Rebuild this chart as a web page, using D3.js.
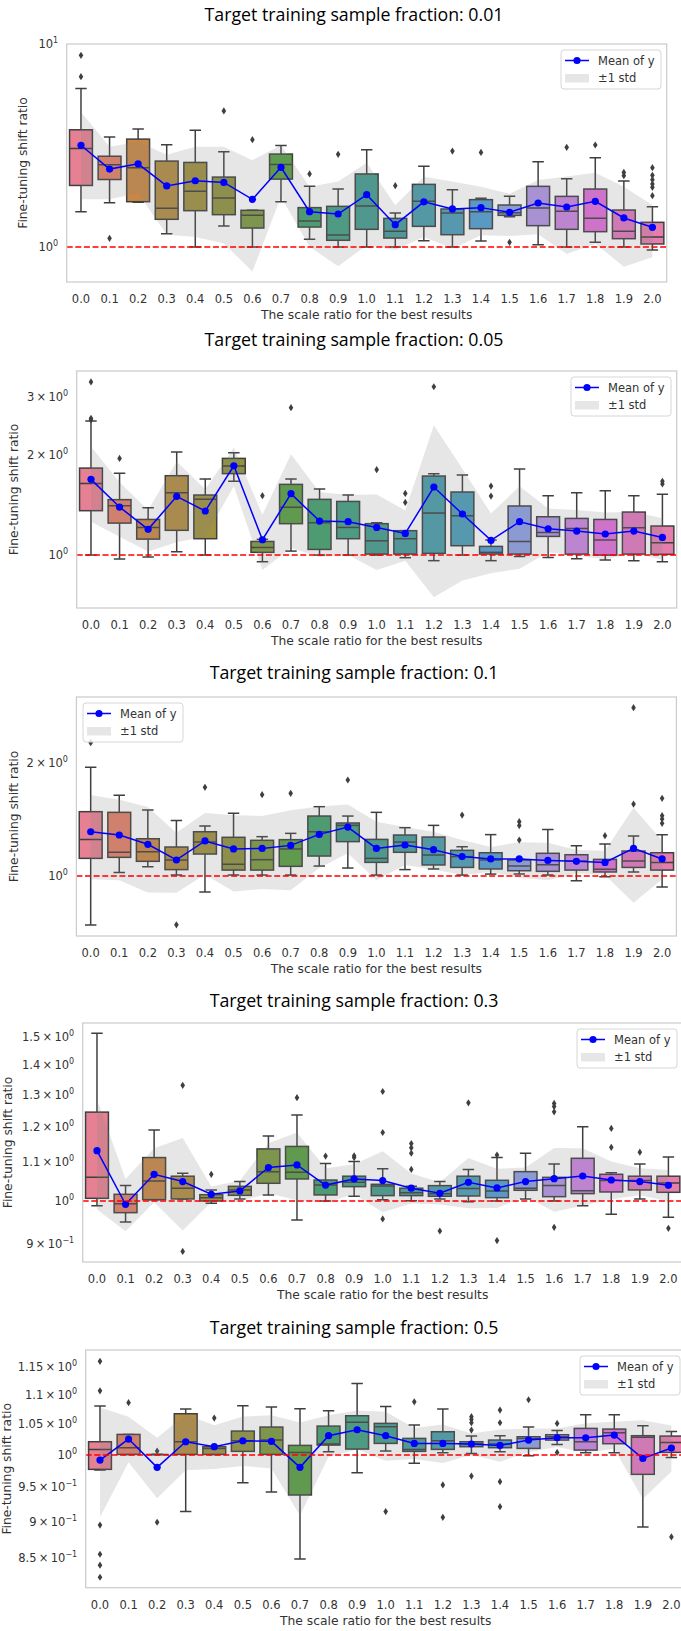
<!DOCTYPE html>
<html>
<head>
<meta charset="utf-8">
<script src="https://cdn.jsdelivr.net/npm/d3@7"></script>
<style>
  body { margin: 0; background: #fff; }
  svg { display: block; }
</style>
</head>
<body>
<svg id="chart" width="681" height="1631"></svg>
<script>
// ---------------------------------------------------------------------------
// Categories shared by every panel
// ---------------------------------------------------------------------------
const categories = ["0.0","0.1","0.2","0.3","0.4","0.5","0.6","0.7","0.8","0.9","1.0",
                    "1.1","1.2","1.3","1.4","1.5","1.6","1.7","1.8","1.9","2.0"];
const fractions = ["0.01", "0.05", "0.1", "0.3", "0.5"];

// ---------------------------------------------------------------------------
// Fraction 0.01
// ---------------------------------------------------------------------------
const f001Low    = [1.49, 1.654, 1.66, 1.163, 1.00, 1.269, 1.00, 1.672, 1.091, 1.00, 1.00, 1.00, 1.074, 1.00, 1.07, 1.411, 1.027, 1.00, 1.054, 1.00, 0.967];
const f001Q1     = [2.01, 2.15, 1.672, 1.369, 1.51, 1.443, 1.24, 2.16, 1.254, 1.079, 1.222, 1.107, 1.264, 1.15, 1.231, 1.432, 1.274, 1.222, 1.19, 1.099, 1.035];
const f001Median = [3.06, 2.54, 2.46, 1.55, 1.88, 1.743, 1.432, 2.55, 1.343, 1.146, 1.592, 1.195, 1.679, 1.47, 1.493, 1.476, 1.556, 1.499, 1.384, 1.195, 1.12];
const f001Q3     = [3.78, 2.80, 3.40, 2.65, 2.61, 2.21, 1.516, 2.87, 1.563, 1.586, 2.29, 1.384, 2.035, 1.539, 1.711, 1.61, 1.99, 1.776, 1.93, 1.521, 1.323];
const f001High   = [6.03, 3.48, 3.81, 3.19, 3.76, 2.95, 1.516, 3.16, 1.99, 1.93, 3.015, 1.47, 2.50, 1.917, 1.737, 1.776, 2.633, 2.171, 2.754, 2.114, 1.58];
const f001Outliers = [[8.79, 6.90], [1.103], [], [], [], [4.68], [3.38], [], [2.29], [2.86], [], [2.005], [], [2.97],
                      [2.925], [1.054], [], [3.097], [3.18], [2.33, 2.246], [2.46, 2.254, 2.147, 2.043, 1.967, 1.79]];
const f001Mean   = [3.17, 2.42, 2.57, 2.00, 2.12, 2.08, 1.717, 2.47, 1.493, 1.454, 1.81, 1.288, 1.67, 1.54, 1.563, 1.482, 1.647, 1.574, 1.679, 1.39, 1.25];
const f001Std    = [1.45, 0.70, 0.73, 0.85, 1.0, 1.04, 0.96, 0.70, 0.49, 0.65, 0.79, 0.32, 0.55, 0.56, 0.42, 0.35, 0.49, 0.65, 0.64, 0.59, 0.36];

// ---------------------------------------------------------------------------
// Fraction 0.05
// ---------------------------------------------------------------------------
const f005Low    = [1.0, 0.973, 0.986, 1.023, 1.0, 1.667, 0.955, 1.028, 1.0, 1.0, 1.0, 0.982, 0.962, 1.0, 0.962, 0.991, 0.984, 0.975, 0.966, 0.962, 0.955];
const f005Q1     = [1.36, 1.248, 1.117, 1.187, 1.12, 1.758, 1.019, 1.243, 1.04, 1.12, 1.007, 1.007, 1.012, 1.067, 1.007, 1.007, 1.138, 1.007, 1.0, 1.007, 1.005];
const f005Median = [1.643, 1.408, 1.211, 1.54, 1.471, 1.853, 1.054, 1.392, 1.251, 1.211, 1.104, 1.12, 1.338, 1.313, 1.019, 1.099, 1.17, 1.203, 1.11, 1.209, 1.089];
const f005Q3     = [1.827, 1.468, 1.28, 1.733, 1.516, 1.954, 1.099, 1.632, 1.471, 1.45, 1.243, 1.184, 1.729, 1.548, 1.062, 1.405, 1.304, 1.289, 1.28, 1.347, 1.223];
const f005High   = [2.53, 1.762, 1.388, 2.042, 1.694, 2.033, 1.115, 1.694, 1.58, 1.516, 1.251, 1.184, 1.758, 1.742, 1.11, 1.815, 1.509, 1.54, 1.562, 1.509, 1.523];
const f005Outliers = [[3.32, 2.58, 2.55], [1.954], [], [], [], [], [1.509], [2.777], [], [], [1.807], [1.533, 1.44], [3.21], [],
                      [1.613, 1.505], [], [], [], [], [], [1.667, 1.636]];
const f005Mean   = [1.69, 1.395, 1.195, 1.502, 1.357, 1.857, 1.112, 1.53, 1.266, 1.26, 1.211, 1.162, 1.602, 1.329, 1.107, 1.26, 1.2, 1.181, 1.157, 1.181, 1.13];
const f005Std    = [0.43, 0.26, 0.17, 0.41, 0.22, 0.245, 0.21, 0.48, 0.28, 0.26, 0.31, 0.2, 0.855, 0.49, 0.226, 0.35, 0.18, 0.185, 0.185, 0.17, 0.16];

// ---------------------------------------------------------------------------
// Fraction 0.1
// ---------------------------------------------------------------------------
const f01Low    = [0.741, 1.021, 1.059, 1.006, 0.907, 1.006, 1.006, 1.006, 1.063, 1.05, 1.006, 1.04, 1.044, 1.006, 1.012, 1.012, 1.006, 0.972, 0.996, 1.025, 0.935];
const f01Q1     = [1.114, 1.121, 1.094, 1.04, 1.144, 1.037, 1.037, 1.061, 1.13, 1.234, 1.087, 1.156, 1.07, 1.054, 1.044, 1.033, 1.029, 1.037, 1.025, 1.054, 1.037];
const f01Median = [1.251, 1.156, 1.16, 1.103, 1.231, 1.074, 1.105, 1.18, 1.311, 1.363, 1.114, 1.231, 1.137, 1.126, 1.103, 1.063, 1.072, 1.096, 1.042, 1.096, 1.087];
const f01Q3     = [1.482, 1.476, 1.256, 1.194, 1.311, 1.267, 1.244, 1.249, 1.443, 1.383, 1.251, 1.285, 1.269, 1.17, 1.153, 1.103, 1.149, 1.139, 1.107, 1.165, 1.153];
const f01High   = [1.944, 1.638, 1.497, 1.405, 1.358, 1.467, 1.272, 1.298, 1.528, 1.443, 1.476, 1.344, 1.363, 1.196, 1.288, 1.107, 1.33, 1.204, 1.216, 1.277, 1.288];
const f01Outliers = [[2.26], [], [], [0.742], [1.72], [], [1.644], [1.658], [], [1.799], [], [], [], [1.452], [],
                     [1.394, 1.361, 1.246], [], [], [1.28], [2.80, 1.553], [1.608, 1.446, 1.417, 1.38]];
const f01Mean   = [1.311, 1.285, 1.214, 1.103, 1.239, 1.18, 1.184, 1.206, 1.29, 1.349, 1.184, 1.209, 1.175, 1.126, 1.11, 1.11, 1.1, 1.094, 1.087, 1.184, 1.11];
const f01Std    = [0.33, 0.31, 0.31, 0.2, 0.23, 0.27, 0.26, 0.29, 0.24, 0.2, 0.21, 0.14, 0.135, 0.12, 0.085, 0.12, 0.125, 0.078, 0.08, 0.335, 0.13];

// ---------------------------------------------------------------------------
// Fraction 0.3
// ---------------------------------------------------------------------------
const f03Low    = [0.9886, 0.9495, 1.0033, 1.005, 0.9943, 1.005, 1.0149, 0.9542, 1.0, 1.0116, 1.0033, 1.0008, 1.005, 0.9984, 1.0, 1.005, 1.0, 0.9886, 0.9676, 1.005, 0.9605];
const f03Q1     = [1.0066, 0.9716, 1.0033, 1.005, 1.0, 1.014, 1.0446, 1.0558, 1.015, 1.036, 1.0133, 1.0133, 1.0116, 1.0124, 1.0082, 1.0267, 1.0107, 1.0183, 1.0225, 1.0275, 1.0216];
const f03Median = [1.06, 0.9934, 1.0506, 1.032, 1.0082, 1.0275, 1.075, 1.0733, 1.04, 1.0471, 1.0377, 1.0208, 1.0183, 1.031, 1.025, 1.032, 1.0386, 1.0258, 1.0515, 1.0515, 1.0454];
const f03Q3     = [1.245, 1.0166, 1.113, 1.063, 1.0157, 1.0368, 1.137, 1.144, 1.053, 1.063, 1.042, 1.032, 1.0386, 1.063, 1.0523, 1.075, 1.06, 1.111, 1.068, 1.063, 1.063];
const f03High   = [1.512, 1.0386, 1.191, 1.071, 1.0275, 1.049, 1.174, 1.236, 1.097, 1.102, 1.083, 1.0369, 1.049, 1.081, 1.113, 1.125, 1.0955, 1.201, 1.0724, 1.0955, 1.1147];
const f03Outliers = [[], [], [], [1.33, 0.883], [1.068], [], [], [1.29], [1.117], [1.118, 1.113], [1.31, 1.184, 0.9566],
                     [1.152, 1.14, 1.125, 1.081], [0.9287], [1.274], [1.12, 0.9069], [], [1.272, 1.262, 1.246, 0.937], [],
                     [1.196, 1.1416], [1.128], [0.9348]];
const f03Mean   = [1.132, 0.9918, 1.068, 1.049, 1.0166, 1.025, 1.086, 1.093, 1.04, 1.0558, 1.0515, 1.032, 1.0191, 1.0471, 1.0326, 1.049, 1.0566, 1.0636, 1.0531, 1.049, 1.0394];
const f03Std    = [0.153, 0.064, 0.071, 0.119, 0.02, 0.026, 0.067, 0.091, 0.044, 0.039, 0.079, 0.038, 0.028, 0.065, 0.05, 0.037, 0.083, 0.075, 0.049, 0.035, 0.04];

// ---------------------------------------------------------------------------
// Fraction 0.5
// ---------------------------------------------------------------------------
const f05Low    = [0.9765, 1.001, 1.001, 0.9143, 1.001, 0.957, 0.943, 0.8483, 1.0053, 0.9724, 1.0063, 0.9869, 1.0037, 1.0026, 1.0053, 0.999, 1.017, 1.0037, 1.0037, 0.8923, 0.9963];
const f05Q1     = [0.9776, 1.001, 1.001, 1.001, 1.001, 1.0058, 1.001, 0.9387, 1.0159, 1.0095, 1.0186, 1.0058, 1.009, 1.0133, 1.0117, 1.0106, 1.024, 1.0079, 1.0181, 0.9699, 1.0042];
const f05Median = [1.009, 1.0117, 1.001, 1.0213, 1.0106, 1.0229, 1.024, 1.0042, 1.0175, 1.0531, 1.0459, 1.009, 1.0229, 1.0181, 1.0176, 1.0267, 1.0294, 1.0213, 1.036, 1.0284, 1.0202];
const f05Q3     = [1.0213, 1.0332, 1.001, 1.0676, 1.0133, 1.0387, 1.0453, 1.0154, 1.0469, 1.0642, 1.0514, 1.0267, 1.0376, 1.0213, 1.024, 1.0294, 1.0327, 1.0431, 1.042, 1.0311, 1.0305];
const f05High   = [1.0806, 1.0332, 1.001, 1.0755, 1.0133, 1.0812, 1.079, 1.0761, 1.0726, 1.1201, 1.0801, 1.0486, 1.0755, 1.0305, 1.0311, 1.0453, 1.0398, 1.0659, 1.0659, 1.0475, 1.038];
const f05Outliers = [[1.16, 1.107, 0.895, 0.8546, 0.84, 0.824], [1.0864], [1.0063, 0.899], [], [1.0603], [], [], [], [], [],
                     [0.9143], [1.088], [0.9537, 0.9061], [1.0626, 1.058, 1.0525, 1.0403, 0.9673],
                     [1.0738, 1.0525, 0.9587, 0.9215], [1.0915], [1.0514, 1.0042], [], [], [], [0.8784]];
const f05Mean   = [0.9921, 1.0256, 0.9807, 1.0213, 1.0133, 1.0229, 1.0219, 0.9807, 1.0311, 1.0409, 1.0311, 1.0186, 1.0186, 1.0176, 1.0154, 1.024, 1.0278, 1.0278, 1.0322, 0.9947, 1.0111];
const f05Std    = [0.086, 0.037, 0.047, 0.045, 0.035, 0.04, 0.043, 0.072, 0.034, 0.032, 0.04, 0.025, 0.031, 0.017, 0.026, 0.019, 0.015, 0.024, 0.022, 0.062, 0.037];

// y tick values (log axis)
const yTicks001 = [1, 10];
const yTicks005 = [1, 2, 3];
const yTicks01  = [1, 2];
const yTicks03  = [0.9, 1, 1.1, 1.2, 1.3, 1.4, 1.5];
const yTicks05  = [0.85, 0.9, 0.95, 1, 1.05, 1.1, 1.15];

// ---------------------------------------------------------------------------
// Panel layout
// ---------------------------------------------------------------------------
const panels = [
  { frac: fractions[0], low: f001Low, q1: f001Q1, med: f001Median, q3: f001Q3, high: f001High, out: f001Outliers, mean: f001Mean, std: f001Std,
    ticks: yTicks001, yDomain: [0.6724, 10],  frame: { l: 66.7, r: 666.7, t: 44,   b: 282 },   ylabX: 22.7, titleY: 21,    legend: "right" },
  { frac: fractions[1], low: f005Low, q1: f005Q1, med: f005Median, q3: f005Q3, high: f005High, out: f005Outliers, mean: f005Mean, std: f005Std,
    ticks: yTicks005, yDomain: [0.693, 3.58], frame: { l: 76.7, r: 676.7, t: 371,  b: 608 },   ylabX: 13.3, titleY: 346,   legend: "right" },
  { frac: fractions[2], low: f01Low, q1: f01Q1, med: f01Median, q3: f01Q3, high: f01High, out: f01Outliers, mean: f01Mean, std: f01Std,
    ticks: yTicks01,  yDomain: [0.693, 2.988], frame: { l: 76.4, r: 676.4, t: 697,  b: 936 },  ylabX: 13.3, titleY: 679,   legend: "left" },
  { frac: fractions[3], low: f03Low, q1: f03Q1, med: f03Median, q3: f03Q3, high: f03High, out: f03Outliers, mean: f03Mean, std: f03Std,
    ticks: yTicks03,  yDomain: [0.8603, 1.551], frame: { l: 82.7, r: 682.7, t: 1023, b: 1262 }, ylabX: 7.3,  titleY: 1006.5, legend: "right" },
  { frac: fractions[4], low: f05Low, q1: f05Q1, med: f05Median, q3: f05Q3, high: f05High, out: f05Outliers, mean: f05Mean, std: f05Std,
    ticks: yTicks05,  yDomain: [0.8105, 1.181], frame: { l: 85.7, r: 685.7, t: 1350, b: 1587.7 }, ylabX: 6.8, titleY: 1334, legend: "right" }
];

// ---------------------------------------------------------------------------
// HSLuv -> sRGB (for the husl palette)
// ---------------------------------------------------------------------------
const M = [[3.240969941904521, -1.537383177570093, -0.498610760293],
           [-0.96924363628087, 1.87596750150772, 0.041555057407175],
           [0.055630079696993, -0.20397695888897, 1.056971514242878]];
const KAPPA = 903.2962962962963, EPS = 0.0088564516790356308;
const REF_U = 0.19783000664283681, REF_V = 0.468319994938791;
function hsluvBounds(L) {
  const sub1 = Math.pow(L + 16, 3) / 1560896;
  const sub2 = sub1 > EPS ? sub1 : L / KAPPA;
  const out = [];
  for (const [m1, m2, m3] of M) {
    for (let t = 0; t < 2; t++) {
      const top1 = (284517 * m1 - 94839 * m3) * sub2;
      const top2 = (838422 * m3 + 769860 * m2 + 731718 * m1) * L * sub2 - 769860 * t * L;
      const bottom = (632260 * m3 - 126452 * m2) * sub2 + 126452 * t;
      out.push([top1 / bottom, top2 / bottom]);
    }
  }
  return out;
}
function maxChroma(L, H) {
  const hr = H / 360 * 2 * Math.PI;
  let min = Infinity;
  for (const [s, i] of hsluvBounds(L)) {
    const len = i / (Math.sin(hr) - s * Math.cos(hr));
    if (len >= 0) min = Math.min(min, len);
  }
  return min;
}
function hsluvToRgb(H, S, L) {
  const C = maxChroma(L, H) / 100 * S;
  const hr = H / 360 * 2 * Math.PI;
  const U = Math.cos(hr) * C, V = Math.sin(hr) * C;
  const varU = U / (13 * L) + REF_U, varV = V / (13 * L) + REF_V;
  const Y = L <= 8 ? L / KAPPA : Math.pow((L + 16) / 116, 3);
  const X = 0 - (9 * Y * varU) / ((varU - 4) * varV - varU * varV);
  const Z = (9 * Y - 15 * varV * Y - varV * X) / (3 * varV);
  return M.map(r => {
    const c = r[0] * X + r[1] * Y + r[2] * Z;
    const g = c <= 0.0031308 ? 12.92 * c : 1.055 * Math.pow(c, 1 / 2.4) - 0.055;
    return Math.max(0, Math.min(1, g));
  });
}
// husl palette (h=.01, s=.9, l=.65), then desaturated to 75%
const boxColors = categories.map((_, i) => {
  const h = ((i / categories.length) + 0.01) % 1 * 359;
  const [r, g, b] = hsluvToRgb(h, 0.9 * 99, 0.65 * 99);
  const c = d3.hsl(d3.rgb(r * 255, g * 255, b * 255));
  c.s *= 0.75;
  return c;
});
const minLight = d3.min(boxColors, c => c.l);
const lineGray = d3.rgb(minLight * 0.6 * 255, minLight * 0.6 * 255, minLight * 0.6 * 255).formatHex();

// ---------------------------------------------------------------------------
// Drawing
// ---------------------------------------------------------------------------
const svg = d3.select("#chart");
const TICK_FONT = "'DejaVu Sans', sans-serif";
const TITLE_FONT = "'Open Sans', 'Noto Sans', sans-serif";
const TEXT_COLOR = "#333";

// Title size chosen so the longest title spans ~299px
const probe = svg.append("text").attr("font-family", TITLE_FONT).attr("font-size", 20)
  .text("Target training sample fraction: 0.01");
const titleSize = 20 * 299 / probe.node().getComputedTextLength();
probe.remove();

function tickParts(v) {
  const exp = Math.floor(Math.log10(v) + 1e-9);
  const mant = +(v / Math.pow(10, exp)).toFixed(2);
  return { mant, exp };
}

panels.forEach((p, pi) => {
  const f = p.frame;
  const g = svg.append("g");
  const x = d3.scaleBand().domain(categories).range([f.l, f.r]);
  const y = d3.scaleLog().domain(p.yDomain).range([f.b, f.t]);
  const cx = c => x(c) + x.bandwidth() / 2;
  const bw = x.bandwidth() * 0.8;

  const clipId = "clip" + pi;
  g.append("clipPath").attr("id", clipId)
    .append("rect").attr("x", f.l).attr("y", f.t).attr("width", f.r - f.l).attr("height", f.b - f.t);

  // title
  g.append("text")
    .attr("x", 354).attr("y", p.titleY)
    .attr("text-anchor", "middle")
    .attr("font-family", TITLE_FONT)
    .attr("font-weight", 400)
    .attr("font-size", titleSize)
    .attr("fill", "#000")
    .text("Target training sample fraction: " + p.frac);

  const plot = g.append("g").attr("clip-path", `url(#${clipId})`);

  // boxes
  categories.forEach((c, i) => {
    const col = boxColors[i];
    const xc = cx(c);
    const bg = plot.append("g");
    // whiskers
    bg.append("line").attr("x1", xc).attr("x2", xc).attr("y1", y(p.q1[i])).attr("y2", y(p.low[i]))
      .attr("stroke", lineGray).attr("stroke-width", 1.5);
    bg.append("line").attr("x1", xc).attr("x2", xc).attr("y1", y(p.q3[i])).attr("y2", y(p.high[i]))
      .attr("stroke", lineGray).attr("stroke-width", 1.5);
    // caps
    [p.low[i], p.high[i]].forEach(v => {
      bg.append("line").attr("x1", xc - bw / 4).attr("x2", xc + bw / 4).attr("y1", y(v)).attr("y2", y(v))
        .attr("stroke", lineGray).attr("stroke-width", 1.5);
    });
    // box
    bg.append("rect")
      .attr("x", xc - bw / 2).attr("width", bw)
      .attr("y", y(p.q3[i])).attr("height", Math.max(0, y(p.q1[i]) - y(p.q3[i])))
      .attr("fill", col.formatHex()).attr("stroke", lineGray).attr("stroke-width", 1.5);
    // median
    bg.append("line").attr("x1", xc - bw / 2).attr("x2", xc + bw / 2)
      .attr("y1", y(p.med[i])).attr("y2", y(p.med[i]))
      .attr("stroke", lineGray).attr("stroke-width", 1.5);
    // outliers (thin diamonds)
    p.out[i].forEach(v => {
      const yy = y(v);
      bg.append("path")
        .attr("d", `M${xc},${yy - 3.6}L${xc + 2.3},${yy}L${xc},${yy + 3.6}L${xc - 2.3},${yy}Z`)
        .attr("fill", lineGray);
    });
  });

  // ±1 std band
  const band = d3.area()
    .x((d, i) => cx(categories[i]))
    .y0((d, i) => y(p.mean[i] - p.std[i]))
    .y1((d, i) => y(p.mean[i] + p.std[i]));
  plot.append("path").datum(p.mean).attr("d", band)
    .attr("fill", "gray").attr("fill-opacity", 0.2);

  // mean line
  const line = d3.line().x((d, i) => cx(categories[i])).y(d => y(d));
  plot.append("path").datum(p.mean).attr("d", line)
    .attr("fill", "none").attr("stroke", "blue").attr("stroke-width", 1.5);
  plot.selectAll(null).data(p.mean).join("circle")
    .attr("cx", (d, i) => cx(categories[i])).attr("cy", d => y(d)).attr("r", 3.6)
    .attr("fill", "blue");

  // reference line at 1
  plot.append("line").attr("x1", f.l).attr("x2", f.r).attr("y1", y(1)).attr("y2", y(1))
    .attr("stroke", "red").attr("stroke-width", 1.6).attr("stroke-dasharray", "6,2.6");

  // frame
  g.append("rect").attr("x", f.l).attr("y", f.t).attr("width", f.r - f.l).attr("height", f.b - f.t)
    .attr("fill", "none").attr("stroke", "#cccccc").attr("stroke-width", 1.25);

  // x tick labels
  g.selectAll(null).data(categories).join("text")
    .attr("x", d => cx(d)).attr("y", f.b + 21)
    .attr("text-anchor", "middle")
    .attr("font-family", TICK_FONT).attr("font-size", 11.5).attr("fill", TEXT_COLOR)
    .text(d => d);

  // x axis label
  g.append("text")
    .attr("x", (f.l + f.r) / 2).attr("y", f.b + 37)
    .attr("text-anchor", "middle")
    .attr("font-family", TICK_FONT).attr("font-size", 12.3).attr("fill", TEXT_COLOR)
    .text("The scale ratio for the best results");

  // y tick labels (mathtext style)
  p.ticks.forEach(v => {
    const { mant, exp } = tickParts(v);
    const t = g.append("text")
      .attr("x", f.l - 8.5).attr("y", y(v) + 4)
      .attr("text-anchor", "end")
      .attr("font-family", TICK_FONT).attr("font-size", 11.5).attr("fill", TEXT_COLOR);
    t.append("tspan").text(mant === 1 ? "10" : mant + "\u2009\u00d7\u200910");
    t.append("tspan").attr("dy", -5).attr("font-size", 8)
      .text(exp < 0 ? "\u2212" + Math.abs(exp) : String(exp));
  });

  // y axis label
  g.append("text")
    .attr("transform", `translate(${p.ylabX + 4.5},${(f.t + f.b) / 2}) rotate(-90)`)
    .attr("text-anchor", "middle")
    .attr("font-family", TICK_FONT).attr("font-size", 12.3).attr("fill", TEXT_COLOR)
    .text("Fine-tuning shift ratio");

  // legend
  const lw = 100, lh = 39;
  const lx = p.legend === "right" ? f.r - 5.7 - lw : f.l + 6.6;
  const ly = f.t + 6;
  const lg = g.append("g").attr("transform", `translate(${lx},${ly})`);
  lg.append("rect").attr("width", lw).attr("height", lh).attr("rx", 3)
    .attr("fill", "#fff").attr("fill-opacity", 0.8).attr("stroke", "#d6d6d6").attr("stroke-width", 1);
  lg.append("line").attr("x1", 4).attr("x2", 28).attr("y1", 10.5).attr("y2", 10.5)
    .attr("stroke", "blue").attr("stroke-width", 1.5);
  lg.append("circle").attr("cx", 16).attr("cy", 10.5).attr("r", 3.6).attr("fill", "blue");
  lg.append("text").attr("x", 37).attr("y", 14.5)
    .attr("font-family", TICK_FONT).attr("font-size", 11.5).attr("fill", TEXT_COLOR).text("Mean of y");
  lg.append("rect").attr("x", 4).attr("y", 24).attr("width", 24).attr("height", 8.5)
    .attr("fill", "gray").attr("fill-opacity", 0.2);
  lg.append("text").attr("x", 37).attr("y", 32)
    .attr("font-family", TICK_FONT).attr("font-size", 11.5).attr("fill", TEXT_COLOR).text("\u00b11 std");
});
</script>
</body>
</html>
